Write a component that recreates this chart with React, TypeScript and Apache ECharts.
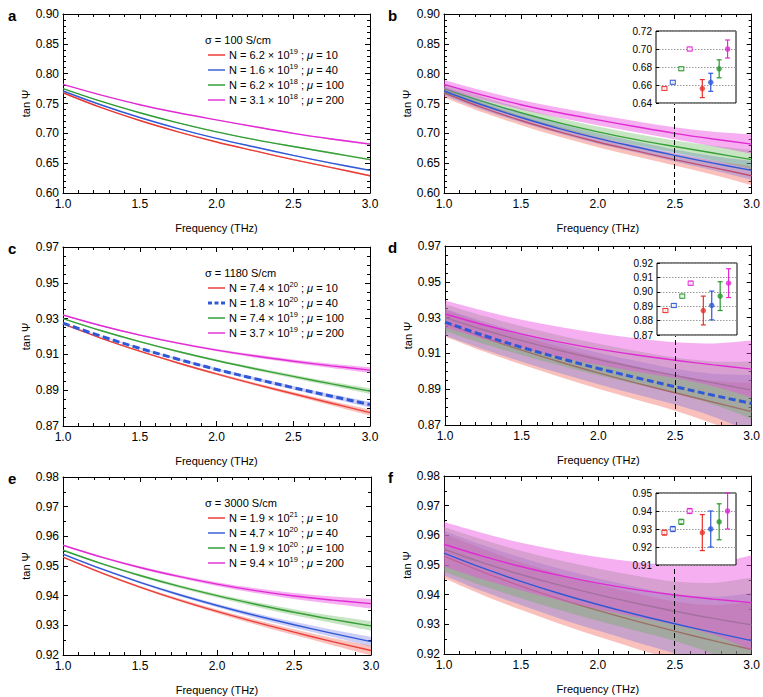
import React, { useEffect, useRef } from 'react';
import * as echarts from 'echarts';

const FONT = '"Liberation Sans", Arial, Helvetica, sans-serif';

// ---------------- data ----------------
const frequency = [1.0, 1.25, 1.5, 1.75, 2.0, 2.25, 2.5, 2.75, 3.0];

// sigma = 100 S/cm (panels a, b)
const s100Red = [0.768, 0.743, 0.7215, 0.7025, 0.6855, 0.6705, 0.656, 0.6425, 0.629];
const s100Blue = [0.771, 0.7475, 0.7265, 0.708, 0.6915, 0.677, 0.663, 0.65, 0.638];
const s100Green = [0.775, 0.7535, 0.7345, 0.7175, 0.7025, 0.6895, 0.678, 0.667, 0.656];
const s100Magenta = [0.782, 0.764, 0.748, 0.7345, 0.7225, 0.711, 0.7, 0.6905, 0.682];

// sigma = 1180 S/cm (panels c, d)
const s1180Red = [0.927, 0.919, 0.9118, 0.9052, 0.8991, 0.8934, 0.888, 0.8827, 0.8775];
const s1180Blue = [0.9275, 0.9201, 0.9134, 0.9073, 0.9016, 0.8964, 0.8914, 0.8866, 0.882];
const s1180Green = [0.93, 0.9232, 0.9171, 0.9116, 0.9066, 0.902, 0.8977, 0.8935, 0.8895];
const s1180Magenta = [0.932, 0.926, 0.9208, 0.9163, 0.9124, 0.9091, 0.9062, 0.9036, 0.9012];

// sigma = 3000 S/cm (panels e, f)
const s3000Red = [0.953, 0.9477, 0.9429, 0.9386, 0.9347, 0.9311, 0.9277, 0.9245, 0.9215];
const s3000Blue = [0.954, 0.949, 0.9445, 0.9404, 0.9367, 0.9333, 0.9302, 0.9273, 0.9245];
const s3000Green = [0.9553, 0.9508, 0.9468, 0.9432, 0.94, 0.9371, 0.9344, 0.932, 0.9298];
const s3000Magenta = [0.957, 0.953, 0.9495, 0.9465, 0.9439, 0.9417, 0.9399, 0.9385, 0.9373];

// uncertainty half-widths of the shaded bands
const narrowHalfWidth = [0.0002, 0.0003, 0.0004, 0.0005, 0.0006, 0.0008, 0.001, 0.0012, 0.0016];
const wideHalfWidth = [0.0075, 0.0078, 0.008, 0.0084, 0.0088, 0.0093, 0.01, 0.012, 0.016];

// legend texts
const sigmaValues = ['100', '1180', '3000'];
const nMantissa100 = ['6.2', '1.6', '6.2', '3.1'];
const nExponent100 = ['19', '19', '18', '18'];
const nMantissa1180 = ['7.4', '1.8', '7.4', '3.7'];
const nExponent1180 = ['20', '20', '19', '19'];
const nMantissa3000 = ['1.9', '4.7', '1.9', '9.4'];
const nExponent3000 = ['21', '20', '20', '19'];
const mobility = ['10', '40', '100', '200'];
const panelLetters = ['a', 'b', 'c', 'd', 'e', 'f'];

// insets (tan psi at 2.5 THz): open squares (left 4) and filled circles (right 4)
const insetPositions = [1, 2, 3, 4, 5.5, 6.5, 7.5, 8.5];
const insetB = [0.656, 0.663, 0.678, 0.7, 0.656, 0.663, 0.678, 0.7];
const insetBErr = [0.002, 0.002, 0.002, 0.002, 0.01, 0.01, 0.01, 0.01];
const insetD = [0.887, 0.8905, 0.897, 0.906, 0.887, 0.8905, 0.897, 0.906];
const insetDErr = [0.0014, 0.0014, 0.0014, 0.0014, 0.01, 0.01, 0.01, 0.01];
const insetF = [0.928, 0.93, 0.934, 0.94, 0.928, 0.93, 0.934, 0.94];
const insetFErr = [0.0014, 0.0014, 0.0014, 0.0014, 0.01, 0.01, 0.01, 0.01];
const markerFrequency = 2.5;

// y axes: [min, max, interval, minorSplit]
const yAxes = [
  [0.6, 0.9, 0.05, 5],
  [0.87, 0.97, 0.02, 4],
  [0.92, 0.98, 0.01, 2],
];
const insetYAxes = [
  [0.64, 0.72, 0.02],
  [0.87, 0.92, 0.01],
  [0.91, 0.95, 0.01],
];

// ---------------- styles / layout ----------------
const COLORS = ['#e8302a', '#2f58d6', '#25992b', '#e02ad4'];
const BAND_COLORS = [
  'rgba(240,90,80,0.38)',
  'rgba(105,110,230,0.34)',
  'rgba(90,175,80,0.34)',
  'rgba(235,80,225,0.46)',
];
const LAYOUT = [
  { left: 63, top: 14, width: 307, height: 179 },
  { left: 444, top: 14, width: 308, height: 179 },
  { left: 63, top: 247, width: 307, height: 179 },
  { left: 445, top: 246, width: 307, height: 179 },
  { left: 63, top: 477, width: 308, height: 178 },
  { left: 444, top: 476, width: 308, height: 178 },
];
const INSET = { dx: 212, dy: 17, w: 80, h: 72 };

function catmull(pts: number[][], start: string) {
  let d = `${start} ${pts[0][0]} ${pts[0][1]}`;
  for (let k = 0; k < pts.length - 1; k++) {
    const p0 = pts[k - 1] || pts[k];
    const p1 = pts[k];
    const p2 = pts[k + 1];
    const p3 = pts[k + 2] || pts[k + 1];
    const c1x = p1[0] + (p2[0] - p0[0]) / 6;
    const c1y = p1[1] + (p2[1] - p0[1]) / 6;
    const c2x = p2[0] - (p3[0] - p1[0]) / 6;
    const c2y = p2[1] - (p3[1] - p1[1]) / 6;
    d += ` C ${c1x} ${c1y} ${c2x} ${c2y} ${p2[0]} ${p2[1]}`;
  }
  return d;
}

function buildOption() {
  const groups = [
    { lines: [s100Red, s100Blue, s100Green, s100Magenta], mant: nMantissa100, exp: nExponent100, inset: insetB, insetErr: insetBErr, dashedBlue: false },
    { lines: [s1180Red, s1180Blue, s1180Green, s1180Magenta], mant: nMantissa1180, exp: nExponent1180, inset: insetD, insetErr: insetDErr, dashedBlue: true },
    { lines: [s3000Red, s3000Blue, s3000Green, s3000Magenta], mant: nMantissa3000, exp: nExponent3000, inset: insetF, insetErr: insetFErr, dashedBlue: false },
  ];

  const grid: any[] = [];
  const xAxis: any[] = [];
  const yAxis: any[] = [];
  const series: any[] = [];
  const graphic: any[] = [];

  const tickStyle = { color: '#000', width: 1 };
  const nameStyle = { color: '#000', fontSize: 11, fontFamily: FONT, fontWeight: 'normal' };

  for (let p = 0; p < 6; p++) {
    const row = Math.floor(p / 2);
    const wide = p % 2 === 1;
    const g = groups[row];
    const L = LAYOUT[p];
    const [yMin, yMax, yInt, yMinor] = yAxes[row];
    const gi = grid.length;
    grid.push({ left: L.left, top: L.top, width: L.width, height: L.height });

    const xi = xAxis.length;
    xAxis.push({
      gridIndex: gi, type: 'value', min: 1, max: 3, interval: 0.5, position: 'bottom',
      axisLine: { show: true, onZero: false, lineStyle: tickStyle },
      axisTick: { show: true, inside: true, length: 5, lineStyle: tickStyle },
      minorTick: { show: true, splitNumber: 5, length: 3, lineStyle: tickStyle },
      axisLabel: { show: true, color: '#000', fontSize: 12, fontFamily: FONT, margin: 5, formatter: (v: number) => v.toFixed(1) },
      splitLine: { show: false },
      name: 'Frequency (THz)', nameLocation: 'middle', nameGap: 29,
      nameTextStyle: nameStyle,
    });
    xAxis.push({
      gridIndex: gi, type: 'value', min: 1, max: 3, interval: 0.5, position: 'top',
      axisLine: { show: true, onZero: false, lineStyle: tickStyle },
      axisTick: { show: true, inside: true, length: 5, lineStyle: tickStyle },
      minorTick: { show: true, splitNumber: 5, length: 3, lineStyle: tickStyle },
      axisLabel: { show: false }, splitLine: { show: false },
    });
    const yi = yAxis.length;
    yAxis.push({
      gridIndex: gi, type: 'value', min: yMin, max: yMax, interval: yInt, position: 'left',
      axisLine: { show: true, onZero: false, lineStyle: tickStyle },
      axisTick: { show: true, inside: true, length: 5, lineStyle: tickStyle },
      minorTick: { show: true, splitNumber: yMinor, length: 3, lineStyle: tickStyle },
      axisLabel: { show: true, color: '#000', fontSize: 12, fontFamily: FONT, margin: 4, formatter: (v: number) => v.toFixed(2) },
      splitLine: { show: false },
      name: 'tan Ψ', nameLocation: 'middle', nameGap: 28,
      nameTextStyle: nameStyle,
    });
    yAxis.push({
      gridIndex: gi, type: 'value', min: yMin, max: yMax, interval: yInt, position: 'right',
      axisLine: { show: true, onZero: false, lineStyle: tickStyle },
      axisTick: { show: true, inside: true, length: 5, lineStyle: tickStyle },
      minorTick: { show: true, splitNumber: yMinor, length: 3, lineStyle: tickStyle },
      axisLabel: { show: false }, splitLine: { show: false },
    });

    const half = wide ? wideHalfWidth : narrowHalfWidth;

    // curves
    g.lines.forEach((vals, k) => {
      const dashed = g.dashedBlue && k === 1;
      const s: any = {
        type: 'line', xAxisIndex: xi, yAxisIndex: yi, silent: true,
        data: frequency.map((f, j) => [f, vals[j]]),
        smooth: 0.35, symbol: 'none', showSymbol: false,
        itemStyle: { color: COLORS[k] },
        lineStyle: { color: COLORS[k], width: dashed ? 3 : 1.4, type: dashed ? [7, 3.5] : 'solid' },
        z: k === 0 || k === 2 ? 2 : 4,
      };
      if (wide && k === 0) {
        const dashTop = yMax - ((INSET.dy + INSET.h) / L.height) * (yMax - yMin);
        s.markLine = {
          silent: true, symbol: ['none', 'none'], label: { show: false },
          lineStyle: { color: '#000', type: [5, 3], width: 1 },
          data: [[{ coord: [markerFrequency, yMin] }, { coord: [markerFrequency, dashTop] }]],
        };
      }
      series.push(s);
    });

    // bands
    g.lines.forEach((vals, k) => {
      series.push({
        type: 'custom', xAxisIndex: xi, yAxisIndex: yi, silent: true, z: 3,
        data: frequency.map((f, j) => [f, vals[j] - half[j], vals[j] + half[j]]),
        renderItem: (params: any, api: any) => {
          if (params.dataIndex !== 0) return null;
          const upper = frequency.map((f, j) => api.coord([f, vals[j] + half[j]]));
          const lower = frequency.map((f, j) => api.coord([f, vals[j] - half[j]])).reverse();
          const d = catmull(upper, 'M') + ' ' + catmull(lower, 'L') + ' Z';
          const cs = params.coordSys;
          return {
            type: 'path',
            shape: { pathData: d },
            style: { fill: BAND_COLORS[k], stroke: null },
            clipPath: { type: 'rect', shape: { x: cs.x, y: cs.y, width: cs.width, height: cs.height } },
          };
        },
      });
    });

    // panel letter
    graphic.push({
      type: 'text', x: wide ? 388 : 8, y: L.top + 1, z: 20, silent: true,
      style: { text: panelLetters[p], fontSize: 15, fontWeight: 'bold', fontFamily: FONT, fill: '#000', verticalAlign: 'middle' },
    });

    if (!wide) {
      // legend
      graphic.push({
        type: 'text', x: L.left + 142, y: L.top + 26, z: 20, silent: true,
        style: { text: `σ = ${sigmaValues[row]} S/cm`, fontSize: 11, fontFamily: FONT, fill: '#000', verticalAlign: 'middle' },
      });
      for (let k = 0; k < 4; k++) {
        const ry = L.top + 41 + 15 * k;
        const dashed = g.dashedBlue && k === 1;
        graphic.push({
          type: 'line', z: 20, silent: true,
          shape: { x1: L.left + 145, y1: ry, x2: L.left + 162, y2: ry },
          style: { stroke: COLORS[k], lineWidth: dashed ? 3 : 1.4, lineDash: dashed ? [4, 2.5] : null },
        });
        graphic.push({
          type: 'text', x: L.left + 166, y: ry, z: 20, silent: true,
          style: {
            text: `{n|N = ${g.mant[k]} × 10}{s|${g.exp[k]}}{n| ; }{i|μ}{n| = ${mobility[k]}}`,
            verticalAlign: 'middle', align: 'left',
            rich: {
              n: { fontSize: 11, fontFamily: FONT, fill: '#000', lineHeight: 16 },
              s: { fontSize: 7.5, fontFamily: FONT, fill: '#000', lineHeight: 16, verticalAlign: 'top' },
              i: { fontSize: 11, fontFamily: FONT, fill: '#000', fontStyle: 'italic', lineHeight: 16 },
            },
          },
        });
      }
    } else {
      // inset
      const [iMin, iMax, iInt] = insetYAxes[row];
      const ig = grid.length;
      grid.push({
        left: L.left + INSET.dx, top: L.top + INSET.dy, width: INSET.w, height: INSET.h,
        show: true, backgroundColor: '#fff', borderColor: '#000', borderWidth: 1, z: 10,
      });
      const ixi = xAxis.length;
      xAxis.push({
        gridIndex: ig, type: 'value', min: 0, max: 9.5, z: 11,
        axisLine: { show: false }, axisTick: { show: false }, axisLabel: { show: false }, splitLine: { show: false },
      });
      const iyi = yAxis.length;
      yAxis.push({
        gridIndex: ig, type: 'value', min: iMin, max: iMax, interval: iInt, z: 11,
        axisLine: { show: false },
        axisTick: { show: true, inside: true, length: 3, lineStyle: tickStyle },
        axisLabel: { show: true, color: '#000', fontSize: 10, fontFamily: FONT, margin: 4, formatter: (v: number) => v.toFixed(2) },
        splitLine: { show: true, lineStyle: { color: '#999', type: [1.5, 1.5], width: 1 } },
      });
      const vals = g.inset;
      const errs = g.insetErr;
      series.push({
        type: 'custom', xAxisIndex: ixi, yAxisIndex: iyi, silent: true, z: 12,
        data: insetPositions.map((x, j) => [x, vals[j], errs[j], j % 4]),
        renderItem: (params: any, api: any) => {
          const x = api.value(0);
          const y = api.value(1);
          const e = api.value(2);
          const c = COLORS[api.value(3)];
          const t = api.coord([x, y + e]);
          const b = api.coord([x, y - e]);
          const hw = 2.5;
          const st = { stroke: c, lineWidth: 1.2 };
          return {
            type: 'group',
            children: [
              { type: 'line', shape: { x1: t[0], y1: t[1], x2: b[0], y2: b[1] }, style: st },
              { type: 'line', shape: { x1: t[0] - hw, y1: t[1], x2: t[0] + hw, y2: t[1] }, style: st },
              { type: 'line', shape: { x1: b[0] - hw, y1: b[1], x2: b[0] + hw, y2: b[1] }, style: st },
            ],
          };
        },
      });
      series.push({
        type: 'scatter', xAxisIndex: ixi, yAxisIndex: iyi, silent: true, z: 13,
        data: insetPositions.map((x, j) => {
          const open = j < 4;
          const c = COLORS[j % 4];
          return {
            value: [x, vals[j]],
            symbol: open ? 'rect' : 'circle',
            symbolSize: open ? [5, 4] : 5.5,
            itemStyle: open
              ? { color: '#fff', borderColor: c, borderWidth: 1.1 }
              : { color: c, borderWidth: 0 },
          };
        }),
      });
    }
  }

  return {
    animation: false,
    backgroundColor: '#fff',
    textStyle: { fontFamily: FONT },
    grid, xAxis, yAxis, series, graphic,
  };
}

export default function App() {
  const ref = useRef<HTMLDivElement>(null);
  useEffect(() => {
    document.body.style.margin = '0';
    if (!ref.current) return;
    const chart = echarts.init(ref.current, undefined, { renderer: 'svg' });
    chart.setOption(buildOption() as any);
    return () => chart.dispose();
  }, []);
  return <div ref={ref} style={{ width: 763, height: 697, background: '#fff' }} />;
}
